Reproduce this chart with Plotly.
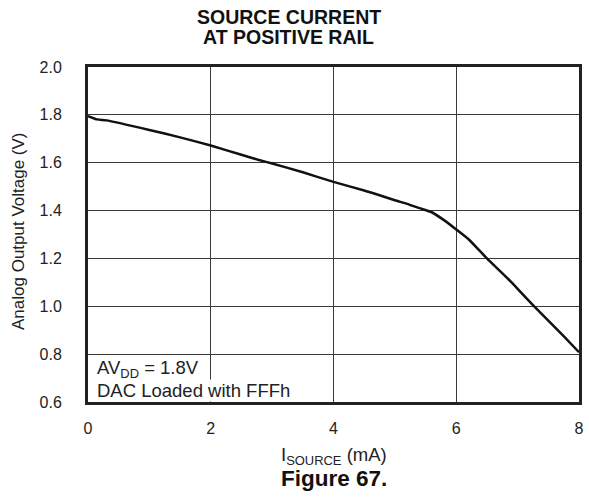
import plotly.graph_objects as go

# source current (mA) vs analog output voltage (V)
i_source = [0.0, 0.15, 0.3, 1.0, 1.5, 2.0, 2.5, 2.77, 3.0, 3.5, 4.0, 4.5, 4.7,
            5.0, 5.2, 5.4, 5.6, 5.8, 6.0, 6.2, 6.5, 6.85, 7.0, 7.25, 7.5, 7.75, 8.0]
v_out = [1.795, 1.781, 1.777, 1.737, 1.706, 1.672, 1.633, 1.6125, 1.597, 1.56,
         1.52, 1.484, 1.468, 1.443, 1.428, 1.41, 1.393, 1.36, 1.321, 1.28, 1.20,
         1.113, 1.073, 1.005, 0.94, 0.875, 0.808]

x_ticks = [0, 2, 4, 6, 8]
y_ticks = [0.6, 0.8, 1.0, 1.2, 1.4, 1.6, 1.8, 2.0]

FONT = "Liberation Sans, Arial, sans-serif"
W, H = 589, 500
L, R, T, B = 88, 5, 67, 98
PW = W - L - R

fig = go.Figure()

fig.add_trace(go.Scatter(
    x=i_source,
    y=v_out,
    mode="lines",
    line=dict(color="#111111", width=2.5, shape="spline", smoothing=0.5),
    showlegend=False,
))

fig.update_layout(
    width=W,
    height=H,
    margin=dict(l=L, r=R, t=T, b=B),
    paper_bgcolor="white",
    plot_bgcolor="white",
    font=dict(family=FONT, size=16, color="#222222"),
    xaxis=dict(
        range=[0, 8],
        tickvals=x_ticks,
        ticktext=[str(t) for t in x_ticks],
        showgrid=True,
        gridcolor="#3a3a3a",
        gridwidth=1,
        zeroline=False,
        showline=True,
        linecolor="#222222",
        linewidth=3,
        mirror=True,
        ticks="",
        ticklabelstandoff=10,
    ),
    yaxis=dict(
        range=[0.6, 2.0],
        tickvals=y_ticks,
        ticktext=["%.1f" % t for t in y_ticks],
        showgrid=True,
        gridcolor="#3a3a3a",
        gridwidth=1,
        zeroline=False,
        showline=True,
        linecolor="#222222",
        linewidth=3,
        mirror=True,
        ticks="",
        ticklabelstandoff=20,
    ),
)

# title, two lines set tighter than plotly's <br> spacing (centred on the page)
title_x = (291 - L) / PW
for txt, ypx in [("SOURCE CURRENT", 17), ("AT POSITIVE RAIL", 37)]:
    fig.add_annotation(
        x=title_x, y=1, xref="paper", yref="paper",
        xanchor="center", yanchor="middle",
        yshift=T - ypx,
        text="<b>%s</b>" % txt,
        showarrow=False,
        font=dict(family=FONT, size=19.5, color="#111111"),
    )

# y-axis title
fig.add_annotation(
    x=0, y=1, xref="paper", yref="paper",
    xanchor="center", yanchor="middle",
    xshift=18 - L, yshift=-(231 - T),
    text="Analog Output Voltage (V)",
    textangle=-90,
    showarrow=False,
    font=dict(family=FONT, size=17, color="#222222"),
)

# x-axis title
fig.add_annotation(
    x=0.5, y=0, xref="paper", yref="paper",
    xanchor="center", yanchor="middle",
    yshift=-(456 - (H - B)),
    text="I<sub>SOURCE</sub> (mA)",
    showarrow=False,
    font=dict(family=FONT, size=18.5, color="#222222"),
)

# condition note in the lower-left corner, one line per annotation so the
# white backing stays under the 0.8 grid line
for txt, ypx in [("AV<sub>DD</sub> = 1.8V", 369), ("DAC Loaded with FFFh", 390)]:
    fig.add_annotation(
        x=0, y=0.6, xref="x", yref="y",
        xanchor="left", yanchor="middle",
        xshift=8, yshift=(H - B) - ypx,
        text=txt,
        showarrow=False,
        align="left",
        bgcolor="white",
        borderpad=0,
        font=dict(family=FONT, size=18.5, color="#222222"),
    )

fig.add_annotation(
    x=0.5, y=0, xref="paper", yref="paper",
    xanchor="center", yanchor="middle",
    yshift=-(478 - (H - B)),
    text="<b>Figure 67.</b>",
    showarrow=False,
    font=dict(family=FONT, size=22.5, color="#111111"),
)

fig.write_html(
    "out.html",
    config={"displayModeBar": False},
    post_script="document.body.style.margin='0';",
)
